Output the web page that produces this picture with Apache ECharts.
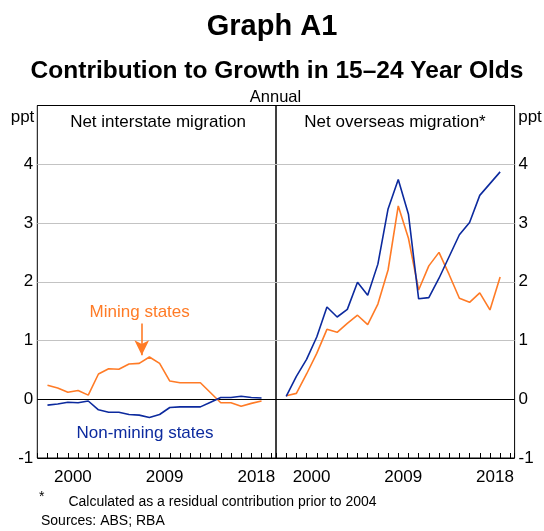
<!DOCTYPE html>
<html>
<head>
<meta charset="utf-8">
<script src="https://cdn.jsdelivr.net/npm/echarts@6/dist/echarts.min.js"></script>
<style>html,body{margin:0;padding:0;background:#fff}#c{width:544px;height:531px}</style>
</head>
<body>
<div id="c"></div>
<script>
// ---- data ----
const years = [1998,1999,2000,2001,2002,2003,2004,2005,2006,2007,2008,2009,2010,2011,2012,2013,2014,2015,2016,2017,2018,2019];
// Net interstate migration (ppt)
const interstateMining    = [0.24,0.19,0.12,0.15,0.07,0.43,0.52,0.51,0.60,0.61,0.72,0.61,0.31,0.28,0.28,0.28,0.11,-0.06,-0.06,-0.12,-0.07,-0.03];
const interstateNonMining = [-0.10,-0.08,-0.05,-0.06,-0.03,-0.18,-0.22,-0.22,-0.26,-0.27,-0.31,-0.26,-0.14,-0.13,-0.13,-0.13,-0.05,0.03,0.03,0.05,0.03,0.02];
// Net overseas migration (ppt)
const overseasMining      = [0.06,0.10,0.43,0.78,1.19,1.14,1.29,1.43,1.27,1.62,2.20,3.29,2.74,1.86,2.27,2.50,2.12,1.72,1.65,1.81,1.52,2.08];
const overseasNonMining   = [0.05,0.39,0.68,1.06,1.57,1.40,1.53,1.99,1.77,2.30,3.24,3.74,3.15,1.71,1.73,2.06,2.43,2.80,3.01,3.47,3.67,3.87];
const yearLabels = [2000, 2009, 2018];
const yTickLabels = [-1, 0, 1, 2, 3, 4];
const arrowAt = {year: 2007.25, from: 1.29, to: 0.75};

const FONT = "'Liberation Sans', Arial, sans-serif";
const ORANGE = '#ff7b26';
const BLUE = '#0c2a9e';
const GRIDC = '#c3c3c3';
const XMIN = 1997, XMAX = 2020.42;

const pair = (xs, ys) => xs.map((x, i) => [x, ys[i]]);

function xAxis(gi) {
  return {
    type: 'value', gridIndex: gi, min: XMIN, max: XMAX, interval: 1,
    position: 'bottom',
    axisLine: {show: false, onZero: false},
    axisTick: {show: false},
    splitLine: {show: false},
    axisLabel: {
      show: true, margin: 11, fontSize: 17, fontFamily: FONT, color: '#000',
      padding: [0, 0, 0, 10],
      showMinLabel: true, showMaxLabel: false,
      formatter: v => yearLabels.includes(Math.round(v)) && Math.abs(v - Math.round(v)) < 1e-6 ? String(Math.round(v)) : ''
    }
  };
}
// thin strip axes whose split lines act as the year tick marks
function tickXAxis(gi) {
  return {
    type: 'value', gridIndex: gi, min: XMIN, max: XMAX, interval: 1,
    axisLine: {show: false, onZero: false}, axisTick: {show: false}, axisLabel: {show: false},
    splitLine: {show: true, lineStyle: {color: '#000', width: 1}}
  };
}
function tickYAxis(gi) {
  return {
    type: 'value', gridIndex: gi, min: 0, max: 1,
    axisLine: {show: false}, axisTick: {show: false}, axisLabel: {show: false}, splitLine: {show: false}
  };
}
function yAxis(gi, pos, showLabel) {
  return {
    type: 'value', gridIndex: gi, position: pos, min: -1, max: 5, interval: 1,
    axisLine: {show: false}, axisTick: {show: false},
    splitLine: {show: true, lineStyle: {color: ['#000', '#000', GRIDC, GRIDC, GRIDC, GRIDC, '#000'], width: 1}},
    axisLabel: {
      show: showLabel, margin: 4, fontSize: 17, fontFamily: FONT, color: '#000',
      formatter: v => yTickLabels.includes(v) ? String(v) : ''
    }
  };
}
function line(name, xi, yi, data, color) {
  return {
    name, type: 'line', xAxisIndex: xi, yAxisIndex: yi, data, symbol: 'none',
    lineStyle: {color, width: 1.6}, itemStyle: {color}, animation: false, z: 3
  };
}
function txt(text, x, y, size, opts) {
  opts = opts || {};
  return {
    type: 'text', x, y, silent: true, z: 100,
    style: {
      text, fill: opts.color || '#000',
      font: (opts.bold ? 'bold ' : '') + size + 'px ' + FONT,
      align: opts.align || 'center', verticalAlign: 'middle'
    }
  };
}

const chart = echarts.init(document.getElementById('c'), null, {renderer: 'canvas'});
const mining = line('Mining states', 0, 0, pair(years, interstateMining), ORANGE);
mining.markLine = {
  silent: true, animation: false,
  symbol: ['none', 'arrow'], symbolSize: [11, 15],
  label: {show: false},
  lineStyle: {color: ORANGE, width: 1.6, type: 'solid'},
  data: [[{coord: [arrowAt.year, arrowAt.from]}, {coord: [arrowAt.year, arrowAt.to]}]]
};
chart.setOption({
  animation: false,
  backgroundColor: '#fff',
  grid: [
    {left: 37.3, top: 105.5, width: 238.7, height: 352.5, show: true, borderColor: '#000', borderWidth: 1, backgroundColor: 'transparent'},
    {left: 276, top: 105.5, width: 238.6, height: 352.5, show: true, borderColor: '#000', borderWidth: 1, backgroundColor: 'transparent'},
    {left: 37.3, top: 453, width: 238.7, height: 5, show: false},
    {left: 276, top: 453, width: 238.6, height: 5, show: false}
  ],
  xAxis: [xAxis(0), xAxis(1), tickXAxis(2), tickXAxis(3)],
  yAxis: [yAxis(0, 'left', true), yAxis(1, 'right', true), tickYAxis(2), tickYAxis(3)],
  series: [
    mining,
    line('Non-mining states', 0, 0, pair(years, interstateNonMining), BLUE),
    line('Mining states', 1, 1, pair(years, overseasMining), ORANGE),
    line('Non-mining states', 1, 1, pair(years, overseasNonMining), BLUE)
  ],
  graphic: [
    txt('Graph A1', 272, 27, 29, {bold: true}),
    txt('Contribution to Growth in 15\u201324 Year Olds', 277, 71, 24.5, {bold: true}),
    txt('Annual', 275.5, 97, 16.5),
    txt('ppt', 22.5, 117, 17),
    txt('ppt', 530, 117, 17),
    txt('Net interstate migration', 158, 122.5, 17),
    txt('Net overseas migration*', 395, 122.5, 17),
    txt('Mining states', 139.7, 312.5, 17, {color: ORANGE}),
    txt('Non-mining states', 145, 433.3, 17, {color: BLUE}),
    txt('*', 39, 497, 14, {align: 'left'}),
    txt('Calculated as a residual contribution prior to 2004', 68.4, 502, 14, {align: 'left'}),
    txt('Sources: ABS; RBA', 41, 521.5, 14, {align: 'left'})
  ]
});
</script>
</body>
</html>
